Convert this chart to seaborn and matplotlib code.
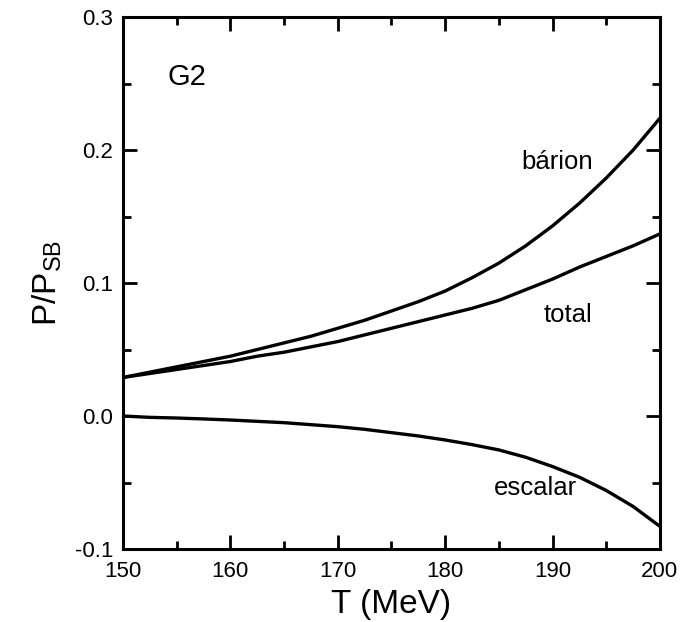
import matplotlib
matplotlib.use("Agg")
import matplotlib.pyplot as plt
from matplotlib.ticker import MultipleLocator, FormatStrFormatter
import pandas as pd
import seaborn as sns

# Temperature grid (MeV)
T = [150, 152.5, 155, 157.5, 160, 162.5, 165, 167.5, 170, 172.5, 175,
     177.5, 180, 182.5, 185, 187.5, 190, 192.5, 195, 197.5, 200]

# Pressure ratios P/P_SB
barion = [0.029, 0.033, 0.037, 0.041, 0.045, 0.050, 0.055, 0.060, 0.066, 0.072, 0.079,
          0.086, 0.094, 0.104, 0.115, 0.128, 0.143, 0.160, 0.179, 0.200, 0.224]
total = [0.029, 0.032, 0.035, 0.038, 0.041, 0.045, 0.048, 0.052, 0.056, 0.061, 0.066,
         0.071, 0.076, 0.081, 0.087, 0.095, 0.103, 0.112, 0.120, 0.128, 0.137]
escalar = [0.000, -0.001, -0.0015, -0.0022, -0.003, -0.004, -0.005, -0.0065, -0.008, -0.010, -0.0125,
           -0.015, -0.018, -0.0215, -0.0255, -0.031, -0.038, -0.046, -0.056, -0.068, -0.083]

df = pd.concat([
    pd.DataFrame({"T": T, "P": barion, "curva": "bárion"}),
    pd.DataFrame({"T": T, "P": total, "curva": "total"}),
    pd.DataFrame({"T": T, "P": escalar, "curva": "escalar"}),
])

sns.set_style("ticks")
plt.rcParams["font.family"] = ["Liberation Sans", "DejaVu Sans"]
plt.rcParams["text.color"] = "black"
plt.rcParams["axes.labelcolor"] = "black"
plt.rcParams["mathtext.fontset"] = "custom"
plt.rcParams["mathtext.rm"] = "Liberation Sans"
plt.rcParams["mathtext.it"] = "Liberation Sans"

fig = plt.figure(figsize=(6.84, 6.22), dpi=100)
ax = fig.add_axes([0.1798, 0.1174, 0.785, 0.855])

sns.lineplot(data=df, x="T", y="P", units="curva", estimator=None,
             color="black", linewidth=2.4, ax=ax, legend=False)

ax.set_xlim(150, 200)
ax.set_ylim(-0.1, 0.3)
ax.xaxis.set_major_locator(MultipleLocator(10))
ax.xaxis.set_minor_locator(MultipleLocator(5))
ax.yaxis.set_major_locator(MultipleLocator(0.1))
ax.yaxis.set_minor_locator(MultipleLocator(0.05))
ax.yaxis.set_major_formatter(FormatStrFormatter("%.1f"))

ax.tick_params(which="both", direction="in", top=True, right=True,
               width=2, colors="black", labelcolor="black", labelsize=16)
ax.tick_params(which="major", length=10)
ax.tick_params(which="minor", length=6)
ax.tick_params(axis="x", which="major", pad=9)
ax.tick_params(axis="y", which="major", pad=7)
for s in ax.spines.values():
    s.set_linewidth(2.2)
    s.set_color("black")

ax.set_xlabel("T (MeV)", fontsize=24, labelpad=5)
ax.set_ylabel(r"P/P$_{\mathrm{SB}}$", fontsize=24, labelpad=8)

ax.text(156.0, 0.255, "G2", fontsize=21, ha="center", va="center")
ax.text(190.4, 0.191, "bárion", fontsize=18.5, ha="center", va="center")
ax.text(191.4, 0.076, "total", fontsize=18.5, ha="center", va="center")
ax.text(188.4, -0.054, "escalar", fontsize=18.5, ha="center", va="center")

fig.savefig("out.png", dpi=100, facecolor="white")
